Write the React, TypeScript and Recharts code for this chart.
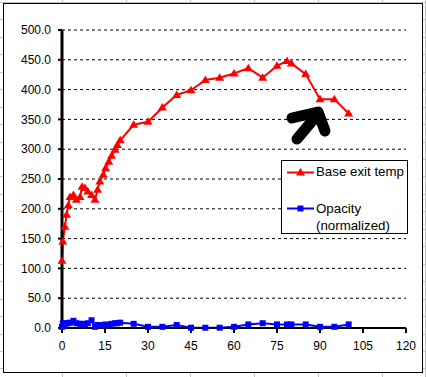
import React from 'react';
import { LineChart, Line, XAxis, YAxis, CartesianGrid } from 'recharts';

// elapsed time (x)
const times = [
  0, 0.3, 1, 1.6, 2.2, 2.8, 4, 5, 6.3, 7, 8, 9, 10.3, 11.5, 12.4, 13.2, 14.4, 15.2, 16.3, 17.3,
  18.5, 19.3, 20.3, 25, 30, 35, 40, 45, 50, 55, 60, 65, 70, 75, 78.5, 80, 85, 90, 95, 100,
];
const baseExitTemp = [
  113, 145, 170, 190, 206, 220, 223, 215, 220, 237, 235, 229, 223, 215, 232, 246, 257, 268, 279, 289,
  299, 307, 315, 341, 346, 370, 391, 399, 416, 420, 427, 436, 420, 440, 448, 444, 426, 384, 384, 360,
];
const opacity = [
  2, 8, 5, 8, 8, 9, 12, 8, 7, 7, 6, 8, 13, 2, 5, 5, 5, 6, 5, 7,
  8, 8, 9, 7, 2, 2, 5, 0.5, 0.5, 0.5, 2, 6, 8, 6, 6, 6, 6, 2, 2, 6,
];
const xTicks = [0, 15, 30, 45, 60, 75, 90, 105, 120];
const yTicks = [0, 50, 100, 150, 200, 250, 300, 350, 400, 450, 500];

const data = times.map((t, i) => ({ t, temp: baseExitTemp[i], opacity: opacity[i] }));

const FONT = '"Liberation Sans", Arial, sans-serif';

const TriangleDot = (props: any) => {
  const { cx, cy } = props;
  if (cx == null || cy == null) return null;
  return (
    <path
      key={props.key}
      d={`M${cx},${cy - 4.5} L${cx + 4.5},${cy + 3} L${cx - 4.5},${cy + 3} Z`}
      fill="#ff0000"
    />
  );
};

const SquareDot = (props: any) => {
  const { cx, cy } = props;
  if (cx == null || cy == null) return null;
  return <rect key={props.key} x={cx - 3} y={cy - 3} width={6} height={6} fill="#0000ff" />;
};

// worksheet cells showing around the chart object
const SheetGrid = () => {
  const cols = [-2, 62, 126, 190, 254, 318, 382, 425];
  const rows: number[] = [];
  for (let y = 2; y < 380; y += 17.45) rows.push(Math.round(y));
  return (
    <svg width={426} height={377} style={{ position: 'absolute', left: 0, top: 0 }}>
      {cols.map((x) => (
        <line key={'c' + x} x1={x + 0.5} y1={0} x2={x + 0.5} y2={377} stroke="#c0c0c0" />
      ))}
      {rows.map((y) => (
        <line key={'r' + y} x1={0} y1={y + 0.5} x2={426} y2={y + 0.5} stroke="#c0c0c0" />
      ))}
    </svg>
  );
};

const LegendBox = () => (
  <div
    style={{
      position: 'absolute',
      left: 281,
      top: 160,
      width: 125,
      height: 72,
      border: '1px solid #000',
      background: '#fff',
      fontFamily: FONT,
      fontSize: 13.3,
      color: '#000',
    }}
  >
    <svg width={30} height={72} style={{ position: 'absolute', left: 4, top: 0 }}>
      <line x1={1} y1={11.5} x2={28} y2={11.5} stroke="#ff0000" strokeWidth={2} />
      <path d="M14.5,7 L19,14.5 L10,14.5 Z" fill="#ff0000" />
      <line x1={1} y1={47.5} x2={28} y2={47.5} stroke="#0000ff" strokeWidth={2} />
      <rect x={11.5} y={44.5} width={6} height={6} fill="#0000ff" />
    </svg>
    <div style={{ position: 'absolute', left: 34, top: 3, lineHeight: '16px', whiteSpace: 'nowrap' }}>
      Base exit temp
    </div>
    <div style={{ position: 'absolute', left: 34, top: 39, lineHeight: '17px', whiteSpace: 'nowrap' }}>
      Opacity
      <br />
      (normalized)
    </div>
  </div>
);

export default function App() {
  return (
    <div style={{ position: 'absolute', left: 0, top: 0, width: 426, height: 377, background: '#fff', overflow: 'hidden' }}>
      <SheetGrid />
      <div
        style={{
          position: 'absolute',
          left: 3,
          top: 3,
          width: 418,
          height: 368,
          border: '1px solid #000',
          background: '#fff',
        }}
      />
      <div style={{ position: 'absolute', left: 0, top: 0 }}>
        <LineChart width={426} height={377} data={data} margin={{ top: 30, right: 20, bottom: 0, left: 0 }}>
          <CartesianGrid vertical={false} stroke="#000" strokeDasharray="3 3" />
          <XAxis
            dataKey="t"
            type="number"
            domain={[0, 120]}
            ticks={xTicks}
            interval={0}
            height={49}
            tickSize={5}
            tickMargin={8}
            axisLine={{ stroke: '#000', strokeWidth: 2 }}
            tickLine={{ stroke: '#000', strokeWidth: 2 }}
            tick={{ fill: '#000', fontSize: 12, fontFamily: FONT }}
          />
          <YAxis
            type="number"
            domain={[0, 500]}
            ticks={yTicks}
            interval={0}
            width={62}
            tickSize={4}
            tickMargin={7}
            tickFormatter={(v: number) => v.toFixed(1)}
            axisLine={{ stroke: '#000', strokeWidth: 3 }}
            tickLine={{ stroke: '#000', strokeWidth: 2 }}
            tick={{ fill: '#000', fontSize: 12, fontFamily: FONT }}
          />
          <Line
            dataKey="opacity"
            stroke="#0000ff"
            strokeWidth={2}
            dot={SquareDot}
            activeDot={false}
            isAnimationActive={false}
          />
          <Line
            dataKey="temp"
            stroke="#ff0000"
            strokeWidth={2}
            dot={TriangleDot}
            activeDot={false}
            isAnimationActive={false}
          />
        </LineChart>
      </div>
      <LegendBox />
      <svg width={426} height={377} style={{ position: 'absolute', left: 0, top: 0, pointerEvents: 'none' }}>
        <path
          d="M297,139 L318,114 M292,118 L318,112 L325,131"
          fill="none"
          stroke="#000"
          strokeWidth={11}
          strokeLinecap="round"
          strokeLinejoin="round"
        />
      </svg>
    </div>
  );
}
